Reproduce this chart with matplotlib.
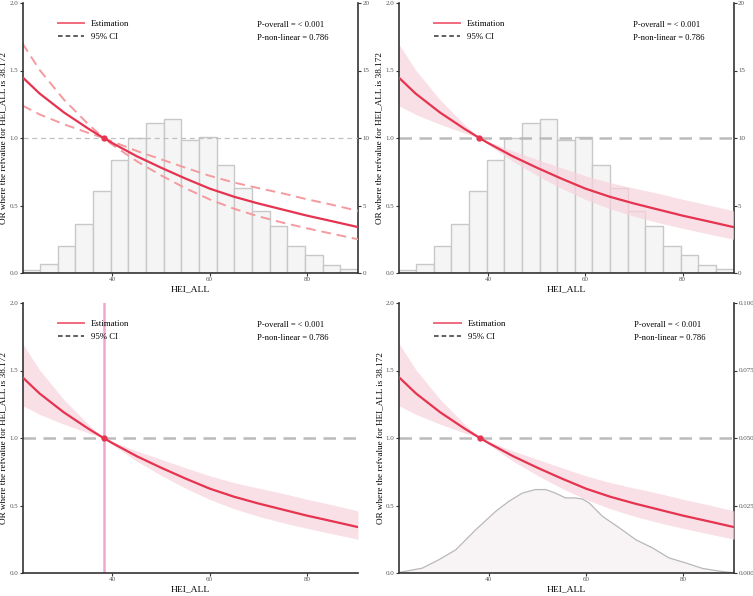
import numpy as np
import matplotlib
matplotlib.use('Agg')
import matplotlib.pyplot as plt
from matplotlib.lines import Line2D

plt.rcParams['font.family'] = ['Liberation Serif', 'DejaVu Serif']

# data
ref_value = 38.172
x_lo, x_hi = 21.5, 90.5
x_pts = [21.5, 25, 30, 35, 38.172, 40, 45, 50, 55, 60, 65, 70, 75, 80, 85, 90.5]
est = [1.45, 1.33, 1.19, 1.07, 1.00, 0.962, 0.865, 0.78, 0.70, 0.625, 0.565, 0.515, 0.47, 0.425, 0.385, 0.34]
upper = [1.70, 1.505, 1.285, 1.103, 1.00, 0.974, 0.904, 0.842, 0.78, 0.72, 0.67, 0.629, 0.59, 0.546, 0.507, 0.46]
lower = [1.24, 1.175, 1.102, 1.038, 1.00, 0.950, 0.828, 0.723, 0.628, 0.545, 0.476, 0.42, 0.373, 0.331, 0.292, 0.25]

hist_pct = [0.25, 0.7, 2.0, 3.6, 6.1, 8.4, 10.0, 11.1, 11.4, 9.85, 10.05, 8.0, 6.3, 4.6, 3.45, 2.03, 1.3, 0.57, 0.27]

dens_x = [21.5, 26.3, 29.7, 33.2, 37.3, 41.4, 44.1, 46.9, 49.6, 51.7, 53.7, 55.8, 57.8,
          59.3, 60.7, 63.4, 66.9, 70.3, 73.7, 77.1, 80.6, 84.0, 87.4, 89.8, 90.5]
dens_y = [0.0002, 0.0018, 0.0049, 0.0086, 0.016, 0.0228, 0.0265, 0.0296, 0.0309, 0.0309, 0.0296, 0.0278, 0.0278,
          0.0274, 0.0259, 0.021, 0.0167, 0.0123, 0.0093, 0.0056, 0.0037, 0.0017, 0.0007, 0.0002, 0.0001]

p_overall = 'P-overall = < 0.001'
p_nonlin = 'P-non-linear = 0.786'
ylab = 'OR where the refvalue for HEI_ALL is 38.172'

RED = '#e6334f'
BAND = '#f7d3dc'
GREY = '#555555'
SPINE = '#333333'

W, H = 753, 596
fig = plt.figure(figsize=(W / 100, H / 100), dpi=100)

boxes = [(22.5, 3, 358, 273), (398.5, 3, 733.5, 273),
         (22.5, 303, 358, 573), (399, 303, 734, 573)]


def style_axis(ax):
    ax.spines['top'].set_visible(False)
    for s in ['left', 'bottom', 'right']:
        ax.spines[s].set_color(SPINE)
        ax.spines[s].set_linewidth(1.2)
    ax.tick_params(labelsize=5, labelcolor=GREY, length=2, width=0.8, color=SPINE, pad=1.2)


for i, (l, t, r, b) in enumerate(boxes):
    ax = fig.add_axes([l / W, 1 - b / H, (r - l) / W, (b - t) / H])
    ax.set_xlim(x_lo, x_hi)
    ax.set_ylim(0, 2.0)
    ax.set_xticks([40, 60, 80])
    ax.set_yticks([0, 0.5, 1.0, 1.5, 2.0])
    ax.set_yticklabels(['0.0', '0.5', '1.0', '1.5', '2.0'])
    style_axis(ax)
    ax.spines['right'].set_visible(False)
    ax.set_xlabel('HEI_ALL', fontsize=6.8)
    ax.xaxis.set_label_coords(0.5, -0.045)
    ax.set_ylabel(ylab, fontsize=6.6)
    ax.yaxis.set_label_coords(-0.045, 0.5)

    # secondary axis
    if i in (0, 1, 3):
        ax2 = ax.twinx()
        style_axis(ax2)
        ax2.spines['left'].set_visible(False)
        ax2.spines['bottom'].set_visible(False)
        if i in (0, 1):
            edges = np.linspace(x_lo, x_hi, len(hist_pct) + 1)
            ax2.bar(edges[:-1], hist_pct, width=np.diff(edges), align='edge',
                    color='#f5f5f5', edgecolor='#c8c8c8', linewidth=1.0)
            ax2.set_ylim(0, 20)
            ax2.set_yticks([0, 5, 10, 15, 20])
        else:
            ax2.fill_between(dens_x, dens_y, 0, color='#f8f4f6', linewidth=0)
            ax2.plot(dens_x, dens_y, color='#b8b8b8', lw=0.9)
            ax2.set_ylim(0, 0.1)
            ax2.set_yticks([0, 0.025, 0.05, 0.075, 0.1])
            ax2.set_yticklabels(['0.000', '0.025', '0.050', '0.075', '0.100'])
        ax2.set_xlim(x_lo, x_hi)
        ax.set_zorder(ax2.get_zorder() + 1)
        ax.patch.set_visible(False)

    # reference line and CI
    if i == 0:
        ax.axhline(1.0, color='#c0c0c0', lw=0.9, ls=(0, (4, 3)), zorder=1)
        ax.plot(x_pts, upper, color='#f59a9f', lw=1.4, ls=(0, (5, 3)), zorder=2)
        ax.plot(x_pts, lower, color='#f59a9f', lw=1.4, ls=(0, (5, 3)), zorder=2)
    else:
        ax.axhline(1.0, color='#bbbbbb', lw=1.8, ls=(0, (5, 3)), zorder=1)
        ax.fill_between(x_pts, lower, upper, color=BAND, alpha=0.7, linewidth=0, zorder=2)
    if i == 2:
        ax.axvline(ref_value, color='#f2a6cf', lw=1.8, zorder=1.5)

    ax.plot(x_pts, est, color=RED, lw=1.6, zorder=3)
    ax.plot([ref_value], [1.0], 'o', color=RED, ms=3.5, zorder=4)

    handles = [Line2D([], [], color='#f06a7c', lw=1.4),
               Line2D([], [], color='#333333', lw=1.1, ls=(0, (3, 2)))]
    ax.legend(handles, ['Estimation', '95% CI'], loc='upper left', bbox_to_anchor=(0.082, 0.965),
              frameon=False, fontsize=6.3, handlelength=3.0, handletextpad=0.8, labelspacing=0.55)
    ax.text(0.70, 0.918, p_overall, transform=ax.transAxes, fontsize=6.1, va='center')
    ax.text(0.70, 0.870, p_nonlin, transform=ax.transAxes, fontsize=6.1, va='center')

fig.savefig('out.png', dpi=100)
